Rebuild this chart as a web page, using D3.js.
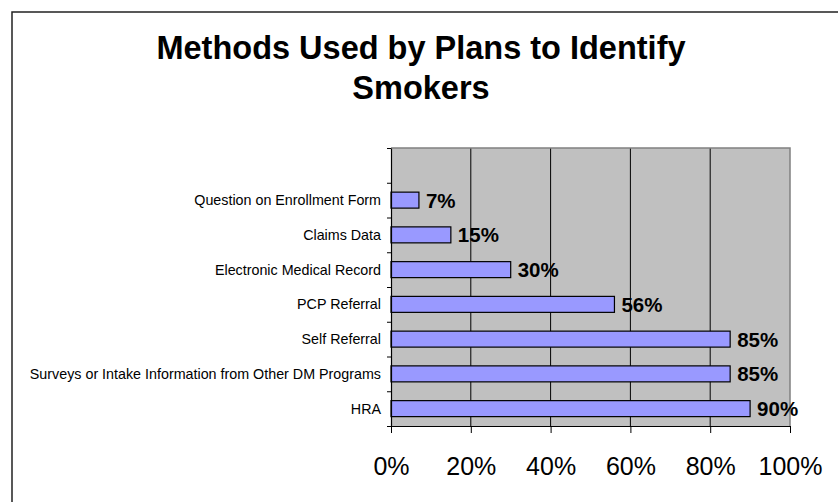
<!DOCTYPE html>
<html>
<head>
<meta charset="utf-8">
<script src="https://cdn.jsdelivr.net/npm/d3@7"></script>
<style>
  html, body { margin: 0; padding: 0; background: #fff; }
  svg { display: block; font-family: "Liberation Sans", Arial, sans-serif; }
</style>
</head>
<body>
<svg id="chart" width="838" height="502"></svg>
<script>
// Data
const titleLines = ["Methods Used by Plans to Identify", "Smokers"];
const categories = [
  "Question on Enrollment Form",
  "Claims Data",
  "Electronic Medical Record",
  "PCP Referral",
  "Self Referral",
  "Surveys or Intake Information from Other DM Programs",
  "HRA"
];
const values = [7, 15, 30, 56, 85, 85, 90];
const xTicks = [0, 20, 40, 60, 80, 100];

const svg = d3.select("#chart");

// Outer chart frame
svg.append("rect")
  .attr("x", 12).attr("y", 12)
  .attr("width", 900).attr("height", 600)
  .attr("fill", "#fff")
  .attr("stroke", "#222").attr("stroke-width", 1.5);

// Title
svg.append("g").selectAll("text")
  .data(titleLines)
  .join("text")
  .attr("x", 421)
  .attr("y", (d, i) => 58.5 + i * 40.5)
  .attr("text-anchor", "middle")
  .attr("font-size", 32.5)
  .attr("font-weight", "bold")
  .attr("fill", "#000")
  .text(d => d);

// Plot area
const plot = { left: 391, right: 790, top: 148, bottom: 426 };

// A blank slot sits above the first category
const slots = [""].concat(categories);

const x = d3.scaleLinear().domain([0, 100]).range([plot.left, plot.right]);
const y = d3.scaleBand()
  .domain(slots)
  .range([plot.top, plot.bottom])
  .paddingInner(0.54)
  .paddingOuter(0.27);
const yIdx = d3.scaleLinear().domain([0, slots.length]).range([plot.top, plot.bottom]);

svg.append("rect")
  .attr("x", plot.left).attr("y", plot.top)
  .attr("width", plot.right - plot.left)
  .attr("height", plot.bottom - plot.top)
  .attr("fill", "#c0c0c0");

// Vertical gridlines
svg.append("g").selectAll("line")
  .data(xTicks.filter(t => t > 0 && t < 100))
  .join("line")
  .attr("x1", d => x(d)).attr("x2", d => x(d))
  .attr("y1", plot.top).attr("y2", plot.bottom)
  .attr("stroke", "#000").attr("stroke-width", 1);

// Top and right plot borders
svg.append("path")
  .attr("d", `M${plot.left},${plot.top}H${plot.right}V${plot.bottom}`)
  .attr("fill", "none")
  .attr("stroke", "#808080").attr("stroke-width", 1.5);

// Bars
svg.append("g").selectAll("rect")
  .data(categories.map((c, i) => ({ c, v: values[i] })))
  .join("rect")
  .attr("x", x(0))
  .attr("y", d => y(d.c))
  .attr("width", d => x(d.v) - x(0))
  .attr("height", y.bandwidth())
  .attr("fill", "#9999ff")
  .attr("stroke", "#000").attr("stroke-width", 1.2);

// Value labels
svg.append("g").selectAll("text")
  .data(categories.map((c, i) => ({ c, v: values[i] })))
  .join("text")
  .attr("x", d => x(d.v) + 7)
  .attr("y", d => y(d.c) + y.bandwidth() / 2 + 7.5)
  .attr("font-size", 20.5)
  .attr("font-weight", "bold")
  .attr("fill", "#000")
  .text(d => d.v + "%");

// Category axis: ticks at slot boundaries
const yAxis = svg.append("g")
  .attr("transform", `translate(${plot.left},0)`)
  .call(d3.axisLeft(yIdx).tickValues(d3.range(0, slots.length + 1)).tickFormat("").tickSize(4).tickSizeOuter(0));
yAxis.select(".domain").attr("stroke", "#000").attr("stroke-width", 1.2);
yAxis.selectAll(".tick line").attr("stroke", "#000");

// Category labels
svg.append("g").selectAll("text")
  .data(categories)
  .join("text")
  .attr("x", 381)
  .attr("y", d => y(d) + y.bandwidth() / 2 + 5)
  .attr("text-anchor", "end")
  .attr("font-size", 14.3)
  .attr("fill", "#000")
  .text(d => d);

// Value axis
const xAxis = svg.append("g")
  .attr("transform", `translate(0,${plot.bottom})`)
  .call(d3.axisBottom(x).tickValues(xTicks).tickFormat(d => d + "%").tickSize(7).tickSizeOuter(0).tickPadding(24));
xAxis.select(".domain").attr("stroke", "#000").attr("stroke-width", 1.2);
xAxis.selectAll(".tick line").attr("stroke", "#000");
xAxis.selectAll(".tick text")
  .attr("font-size", 25)
  .attr("font-family", "'Liberation Sans', Arial, sans-serif")
  .attr("fill", "#000");
</script>
</body>
</html>
